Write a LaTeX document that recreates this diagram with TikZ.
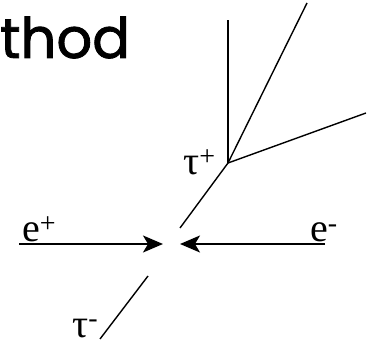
\documentclass[tikz,border=0pt]{standalone}
\usepackage{fontspec}
\setmainfont{Liberation Serif}
\newfontfamily\titlefont[FakeBold=1.5]{Poppins}
\usetikzlibrary{arrows.meta}
\begin{document}
\begin{tikzpicture}[x=1pt,y=1pt,
  trk/.style={line width=1.4pt},
  beam/.style={line width=1.4pt,-{Stealth[length=20pt,width=17pt,inset=5pt]}},
  lbl/.style={inner sep=0pt,anchor=base west,font=\fontsize{40}{42}\selectfont}]
\useasboundingbox (0,0) rectangle (369,345);
\node[inner sep=0pt,anchor=base west,font=\titlefont\fontsize{56}{58}\selectfont] (title) at (0,287) {thod};
% tau+ vertex and decay products
\coordinate (v) at (228,182);
\coordinate (p1) at (228,325);
\coordinate (p2) at (307,342);
\coordinate (p3) at (366,232);
\coordinate (t1) at (180,117);
\draw[trk] (v) -- (p1);
\draw[trk] (v) -- (p2);
\draw[trk] (v) -- (p3);
\draw[trk] (v) -- (t1);
% tau-
\coordinate (m1) at (148,69);
\coordinate (m2) at (100,6);
\draw[trk] (m1) -- (m2);
% beams
\coordinate (ep0) at (19,101);
\coordinate (ep1) at (163,101);
\coordinate (em0) at (325,101);
\coordinate (em1) at (180,101);
\draw[beam] (ep0) -- (ep1);
\draw[beam] (em0) -- (em1);
% labels
\node[lbl] (lep) at (22,103) {e\textsuperscript{+}};
\node[lbl] (lem) at (310,103) {e\textsuperscript{-}};
\node[lbl] (ltp) at (183,170) {τ\textsuperscript{+}};
\node[lbl] (ltm) at (72,8) {τ\textsuperscript{-}};
\end{tikzpicture}
\end{document}
